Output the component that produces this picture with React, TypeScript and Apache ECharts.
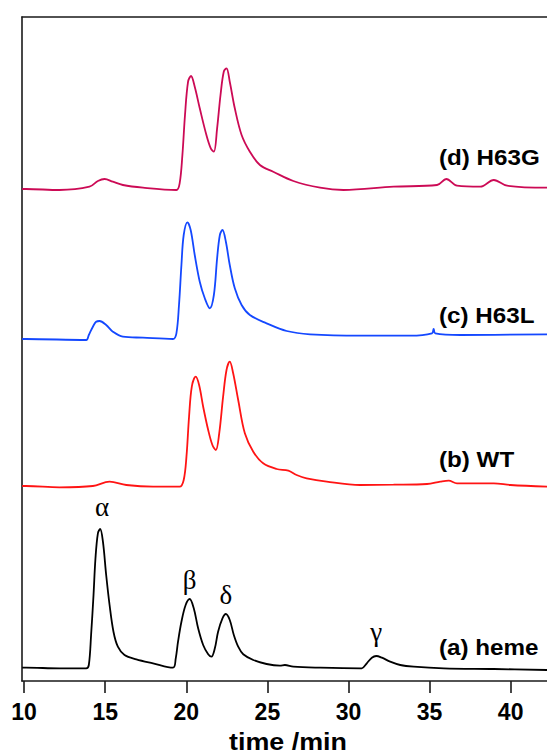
import React, { useEffect, useRef } from "react";
import * as echarts from "echarts";

// x tick labels (time /min)
const xTicks = [10, 15, 20, 25, 30, 35, 40];

// Traces: [time (min), signal (offset units)]
const hemeTrace: number[][] = [
  [9.88, 13.3], [10.12, 13.3], [12.18, 12.7], [13.83, 12.7], [13.99, 16], [14.13, 46], [14.28, 86],
  [14.4, 122.7], [14.55, 147.7], [14.69, 152], [14.86, 139.3], [15.06, 106], [15.27, 76],
  [15.51, 49.3], [15.78, 34.3], [16.19, 26], [16.92, 21.7], [17.95, 17.7], [19.18, 13.3],
  [19.35, 22.7], [19.49, 39.3], [19.7, 59.3], [19.96, 76], [20.21, 82], [20.46, 72.7],
  [20.73, 52.7], [21.04, 36], [21.35, 26.7], [21.55, 24.3], [21.76, 32.7], [21.96, 49.3],
  [22.23, 62.7], [22.44, 67], [22.68, 61], [22.93, 46], [23.2, 34.3], [23.51, 26.7],
  [24.13, 21], [24.95, 17], [25.77, 15.3], [26.08, 16], [26.6, 14.3], [28.25, 13.3],
  [30.72, 12.7], [30.82, 12.7], [31.13, 17.7], [31.44, 23.3], [31.71, 25], [32.06, 23.3],
  [32.57, 19.3], [33.19, 16], [34.02, 14.3], [35.87, 12.7], [38.96, 12], [42.26, 11]
];

const wtTrace: number[][] = [
  [9.88, 195], [10.12, 195], [12.18, 193.7], [14.24, 195], [15.27, 199.3], [16.3, 196],
  [17.95, 194.3], [19.59, 194.3], [19.84, 201], [20.01, 224.3], [20.17, 264.3], [20.34, 294.3],
  [20.58, 304.3], [20.79, 296], [21.04, 274.3], [21.35, 251], [21.61, 236], [21.82, 231],
  [22.03, 247.7], [22.27, 284.3], [22.48, 311], [22.68, 319.3], [22.89, 307.7], [23.2, 281],
  [23.61, 247.7], [24.13, 229.3], [24.74, 217.7], [25.57, 212], [26.29, 210.3], [26.8, 206],
  [27.42, 202.7], [28.66, 199.3], [30.72, 196], [32.78, 196.3], [34.84, 197], [35.66, 199.3],
  [36.18, 200.3], [36.69, 197.7], [38.96, 197.7], [39.99, 196], [42.26, 194.3]
];

const h63lTrace: number[][] = [
  [9.88, 342], [10.12, 342], [13.83, 341], [13.99, 346], [14.24, 354.3], [14.44, 359.3],
  [14.65, 360], [15.06, 356], [15.47, 349.3], [16.09, 344.3], [17.33, 343.3], [19.18, 342],
  [19.39, 347.7], [19.55, 376], [19.7, 416], [19.84, 446], [20.07, 458.7], [20.27, 451],
  [20.52, 426], [20.83, 399.3], [21.14, 382.7], [21.45, 372.7], [21.7, 386], [21.9, 422.7],
  [22.07, 446], [22.23, 451], [22.44, 439.3], [22.68, 416], [22.99, 392.7], [23.41, 376],
  [23.92, 366], [24.95, 357.7], [26.19, 350], [27.63, 346.7], [30.72, 345.3], [33.81, 345.3],
  [35.15, 347.7], [35.25, 352], [35.35, 347.7], [36.9, 346], [42.26, 346.7]
];

const h63gTrace: number[][] = [
  [9.88, 492], [10.12, 492], [12.18, 491], [14.03, 494.3], [14.55, 500], [14.96, 502],
  [15.47, 499.3], [16.09, 496], [17.33, 493.3], [19.39, 491], [19.59, 497.7], [19.76, 526],
  [19.92, 566], [20.11, 599.3], [20.29, 605], [20.52, 594.3], [20.83, 572.7], [21.24, 546],
  [21.51, 532.7], [21.7, 529.3], [21.9, 552.7], [22.11, 586], [22.31, 609.3], [22.48, 612.7],
  [22.68, 599.3], [22.99, 572.7], [23.41, 546], [23.92, 529.3], [24.54, 516], [25.36, 509.3],
  [26.6, 500], [28.25, 493.3], [29.69, 491], [32.78, 494.3], [35.46, 496], [36.03, 502],
  [36.69, 495.3], [38.13, 494.3], [38.96, 501], [39.78, 495.3], [42.26, 493.3]
];

// Peak annotations on the heme trace
const hemePeaks = [
  { name: "α", t: 14.69, v: 152, dist: 9, dx: 2 },
  { name: "β", t: 20.21, v: 82, dist: 6, dx: 0 },
  { name: "δ", t: 22.44, v: 67, dist: 6, dx: 0 },
  { name: "γ", t: 31.71, v: 25, dist: 11, dx: 0 }
];

const traceNames = ["(a) heme", "(b) WT", "(c) H63L", "(d) H63G"];
const traceColors = ["#000000", "#ff1414", "#1448ff", "#cc0a55"];

const SANS = "'Liberation Sans', Arial, Helvetica, sans-serif";
const SERIF = "'Liberation Serif', 'Times New Roman', serif";

export default function App() {
  const ref = useRef<HTMLDivElement>(null);

  useEffect(() => {
    if (!ref.current) return;
    const chart = echarts.init(ref.current, undefined, { renderer: "svg" });
    const traces = [hemeTrace, wtTrace, h63lTrace, h63gTrace];
    const labelY = [647, 459, 315, 157];

    const series: any[] = traces.map((d, i) => ({
      type: "line",
      name: traceNames[i],
      data: d,
      showSymbol: false,
      smooth: 0.35,
      lineStyle: { color: traceColors[i], width: 1.8 },
      itemStyle: { color: traceColors[i] },
      silent: true,
      z: 2,
      markPoint:
        i === 0
          ? {
              symbol: "circle",
              symbolSize: 0,
              itemStyle: { color: "rgba(0,0,0,0)" },
              data: hemePeaks.map((p) => ({
                name: p.name,
                coord: [p.t, p.v],
                label: {
                  show: true,
                  position: "top",
                  distance: p.dist,
                  offset: [p.dx, 0],
                  formatter: p.name,
                  fontFamily: SERIF,
                  fontSize: 27,
                  color: "#000"
                }
              }))
            }
          : undefined
    }));

    chart.setOption({
      animation: false,
      backgroundColor: "#ffffff",
      grid: { left: 22, right: 0, top: 17, bottom: 74, containLabel: false },
      xAxis: [
        {
          type: "value",
          min: 9.87,
          max: 42.24,
          position: "bottom",
          axisLine: { show: true, onZero: false, lineStyle: { color: "#1a1a1a", width: 1.6 } },
          axisTick: {
            show: true,
            inside: false,
            length: 12,
            customValues: xTicks,
            lineStyle: { color: "#1a1a1a", width: 1.6 }
          },
          axisLabel: {
            show: true,
            customValues: xTicks,
            margin: 19,
            fontFamily: SANS,
            fontWeight: "bold",
            fontSize: 23,
            color: "#000"
          },
          splitLine: { show: false }
        },
        {
          type: "value",
          min: 9.87,
          max: 42.24,
          position: "top",
          axisLine: { show: true, onZero: false, lineStyle: { color: "#1a1a1a", width: 1.6 } },
          axisTick: { show: false },
          axisLabel: { show: false },
          splitLine: { show: false }
        }
      ],
      yAxis: {
        type: "value",
        min: 0,
        max: 664,
        axisLine: { show: true, onZero: false, lineStyle: { color: "#1a1a1a", width: 1.6 } },
        axisTick: { show: false },
        axisLabel: { show: false },
        splitLine: { show: false }
      },
      series,
      graphic: [
        ...traceNames.map((n, i) => ({
          type: "text",
          x: 439,
          y: labelY[i],
          scaleX: 1.1,
          z: 10,
          style: {
            text: n,
            fill: "#000",
            font: `bold 22px ${SANS}`,
            textAlign: "left",
            textVerticalAlign: "middle"
          }
        })),
        {
          type: "text",
          x: 288,
          y: 742,
          scaleX: 1.12,
          z: 10,
          style: {
            text: "time /min",
            fill: "#000",
            font: `bold 24px ${SANS}`,
            textAlign: "center",
            textVerticalAlign: "middle"
          }
        }
      ]
    });

    return () => chart.dispose();
  }, []);

  return (
    <div
      ref={ref}
      style={{ position: "absolute", left: 0, top: 0, width: 547, height: 755, background: "#fff" }}
    />
  );
}
